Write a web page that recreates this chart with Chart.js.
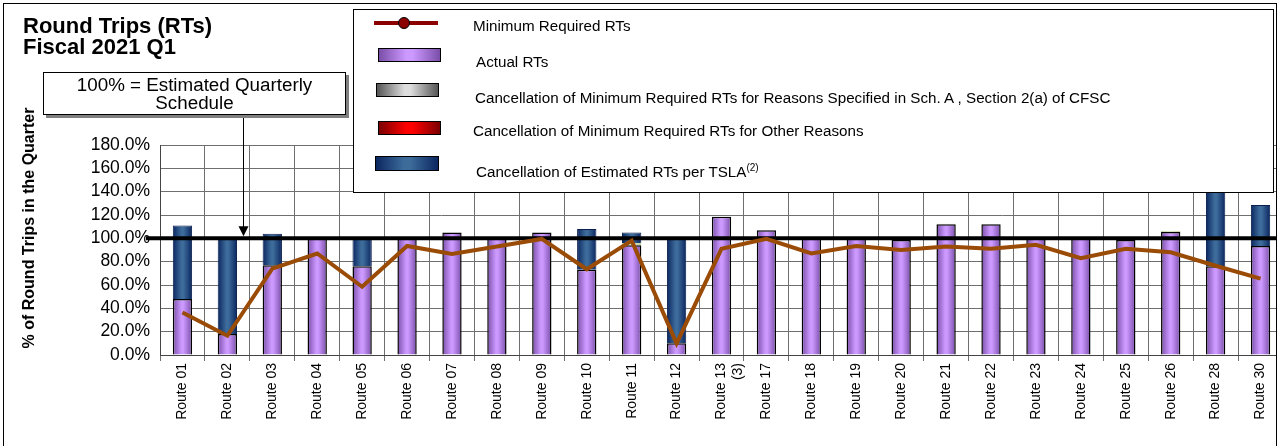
<!DOCTYPE html>
<html>
<head>
<meta charset="utf-8">
<script src="https://cdn.jsdelivr.net/npm/chart.js@4/dist/chart.umd.min.js"></script>
<style>
  body { margin: 0; width: 1277px; height: 446px; overflow: hidden; position: relative; background: #fff; font-family: Arial, "Liberation Sans", sans-serif; color: #000; }
  #wrap { position: absolute; left: 0; top: 0; width: 1283px; height: 446px; }
  .frame { position: absolute; left: 3px; top: 3px; width: 1272px; height: 460px; border: 1px solid #000; }
  .title { position: absolute; left: 23px; top: 15px; font-size: 22px; line-height: 21px; font-weight: bold; }
  .ytitle { position: absolute; left: 29px; top: 228px; transform: translate(-50%, -50%) rotate(-90deg); font-size: 16px; font-weight: bold; white-space: nowrap; }
  .note { position: absolute; left: 43px; top: 72px; width: 303px; border: 1px solid #000; background: #fff;
          box-shadow: 3px 3px 0 #808080; text-align: center; font-size: 18.8px; line-height: 18px; padding-top: 3px; box-sizing: border-box; height: 43px; white-space: nowrap; }
  .legend { position: absolute; left: 353px; top: 9px; width: 921px; height: 184px; border: 1px solid #000; background: #fff; box-sizing: border-box; }
  .legend .txt { position: absolute; font-size: 15.2px; line-height: 18px; white-space: nowrap; }
  .legend .sw { position: absolute; border: 1px solid #000; box-sizing: border-box; }
  .legend sup { font-size: 10px; line-height: 0; }
</style>
</head>
<body>
<div id="wrap"><canvas id="chart" width="1283" height="446"></canvas></div>
<div class="frame"></div>
<div class="title">Round Trips (RTs)<br>Fiscal 2021 Q1</div>
<div class="ytitle">% of Round Trips in the Quarter</div>
<div class="note">100% = Estimated Quarterly<br>Schedule</div>
<div class="legend">
  <div style="position:absolute; left:20px; top:11px; width:64px; height:4px; background:#8b0000;"></div>
  <div style="position:absolute; left:44px; top:7px; width:12px; height:12px; border-radius:50%; background:#8b0000; border:1px solid #000; box-sizing:border-box;"></div>
  <div class="txt" style="left:119px; top:7px;">Minimum Required RTs</div>
  <div class="sw" style="left:24px; top:38px; width:63px; height:14px; background:linear-gradient(to right,#7a4ea8,#cc99ff 45%,#cc99ff 55%,#7a4ea8);"></div>
  <div class="txt" style="left:122px; top:43px;">Actual RTs</div>
  <div class="sw" style="left:22px; top:73px; width:63px; height:14px; background:linear-gradient(to right,#555,#ddd 45%,#ddd 55%,#555);"></div>
  <div class="txt" style="left:121px; top:79px;">Cancellation of Minimum Required RTs for Reasons Specified in Sch. A , Section 2(a) of CFSC</div>
  <div class="sw" style="left:24px; top:111px; width:63px; height:14px; background:linear-gradient(to right,#7a0000,#ff0000 45%,#ff0000 55%,#7a0000);"></div>
  <div class="txt" style="left:119px; top:112px;">Cancellation of Minimum Required RTs for Other Reasons</div>
  <div class="sw" style="left:21px; top:146px; width:64px; height:15px; background:linear-gradient(to right,#0b2660,#3d6c9b 45%,#3d6c9b 55%,#0b2660);"></div>
  <div class="txt" style="left:122px; top:153px;">Cancellation of Estimated RTs per TSLA<sup>(2)</sup></div>
</div>
<script>
const routes = ['Route 01', 'Route 02', 'Route 03', 'Route 04', 'Route 05', 'Route 06', 'Route 07', 'Route 08',
  'Route 09', 'Route 10', 'Route 11', 'Route 12', ['Route 13', '(3)'], 'Route 17', 'Route 18', 'Route 19',
  'Route 20', 'Route 21', 'Route 22', 'Route 23', 'Route 24', 'Route 25', 'Route 26', 'Route 28', 'Route 30']

const actualRTs = [48, 18, 77, 100, 76, 100, 105, 100, 105, 73, 94, 10, 118.5, 107, 100, 100, 98.5, 112, 112, 100, 100, 98.5, 105.5, 76, 93.5]
const cancelSpecified = [0, 0, 0, 0, 0, 0, 0, 0, 0, 0, 2, 0, 0, 0, 0, 0, 0, 0.4, 0, 0, 0, 0.6, 0.8, 0, 0]
const cancelOther = [0, 0, 0, 0, 0, 0, 0, 0, 0, 0, 0, 0, 0, 0, 0, 0, 0, 0, 0, 0, 0, 0, 0, 0, 0]
const cancelTSLA = [63, 82, 27, 0, 24, 0, 0, 0, 0, 35, 9, 90, 0, 0, 0, 0, 0, 0, 0, 0, 0, 0, 0, 110, 35]
const minimumRTs = [36.5, 16.5, 74, 87, 58.5, 93.5, 86.5, 93, 99.5, 73.5, 98, 10, 91, 99.5, 87, 93.5, 90, 93, 91, 94.5, 83, 91, 88, 76.5, 65.5]

const barPct = 0.43

// horizontal shading across each bar, like the old Excel cylinders
function shade (edge, mid) {
  return (ctx) => {
    const chart = ctx.chart
    const x = chart.scales.x
    if (!chart.chartArea || !x) return mid
    const cx = x.getPixelForValue(ctx.dataIndex)
    const half = x.width / routes.length * barPct / 2
    const g = chart.ctx.createLinearGradient(cx - half, 0, cx + half, 0)
    g.addColorStop(0, edge)
    g.addColorStop(0.45, mid)
    g.addColorStop(0.55, mid)
    g.addColorStop(1, edge)
    return g
  }
}

function stackBar (label, data, edge, mid, border, width) {
  return {
    type: 'bar',
    label: label,
    data: data,
    order: 1,
    backgroundColor: shade(edge, mid),
    borderColor: border,
    borderWidth: (ctx) => ctx.raw ? width : 0,
    borderSkipped: 'start'
  }
}

const refLines = {
  id: 'refLines',
  beforeDatasetDraw (chart, args) {
    if (args.meta.type !== 'line') return
    const { ctx, chartArea, scales } = chart
    const y = scales.y.getPixelForValue(100)
    ctx.save()
    ctx.strokeStyle = '#000'
    ctx.lineWidth = 4
    ctx.beginPath()
    ctx.moveTo(chartArea.left - 14, y)
    ctx.lineTo(chartArea.right, y)
    ctx.stroke()
    ctx.restore()
  },
  afterDraw (chart) {
    const { ctx, scales } = chart
    const x = Math.round(scales.x.getPixelForValue(1.35)) + 0.5
    const tip = scales.y.getPixelForValue(100) - 2
    ctx.save()
    ctx.strokeStyle = '#000'
    ctx.lineWidth = 1
    ctx.beginPath()
    ctx.moveTo(x, 116)
    ctx.lineTo(x, tip - 8)
    ctx.stroke()
    ctx.fillStyle = '#000'
    ctx.beginPath()
    ctx.moveTo(x - 5, tip - 10)
    ctx.lineTo(x + 5, tip - 10)
    ctx.lineTo(x, tip)
    ctx.closePath()
    ctx.fill()
    ctx.restore()
  }
}

new Chart(document.getElementById('chart'), {
  data: {
    labels: routes,
    datasets: [
      {
        type: 'line',
        label: 'Minimum Required RTs',
        data: minimumRTs,
        order: 0,
        borderColor: '#9a4b06',
        borderWidth: 4,
        pointRadius: 0,
        tension: 0
      },
      stackBar('Actual RTs', actualRTs, '#7a4ea8', '#cc99ff', '#000', 1.5),
      stackBar('Cancellation of Minimum Required RTs for Reasons Specified in Sch. A , Section 2(a) of CFSC', cancelSpecified, '#b5c98a', '#dbe9b8', '#b5c98a', 0.5),
      stackBar('Cancellation of Minimum Required RTs for Other Reasons', cancelOther, '#7a0000', '#ff0000', '#000', 1),
      stackBar('Cancellation of Estimated RTs per TSLA', cancelTSLA, '#0b2660', '#3d6c9b', '#0a1f4d', 1)
    ]
  },
  options: {
    responsive: false,
    animation: false,
    layout: { padding: { top: 145, left: 0, right: 0, bottom: 0 } },
    datasets: { bar: { categoryPercentage: 1, barPercentage: barPct } },
    plugins: { legend: { display: false }, tooltip: { enabled: false } },
    scales: {
      x: {
        stacked: true,
        grid: { color: '#6f6f6f', lineWidth: 1, tickLength: 6, offset: true },
        border: { color: '#444', width: 1 },
        ticks: { color: '#000', font: { family: 'Arial, "Liberation Sans"', size: 14 }, minRotation: 90, maxRotation: 90, padding: 2, autoSkip: false },
        afterFit: (scale) => { scale.height = 91 }
      },
      y: {
        stacked: true,
        min: 0,
        max: 180,
        grid: { color: '#6f6f6f', lineWidth: 1, drawTicks: false },
        border: { color: '#444', width: 1 },
        ticks: { stepSize: 20, autoSkip: false, color: '#000', padding: 10, font: { family: 'Arial, "Liberation Sans"', size: 17.5 }, callback: (v) => v.toFixed(1) + '%' },
        afterFit: (scale) => { scale.width = 160 }
      }
    }
  },
  plugins: [refLines]
})
</script>
</body>
</html>
